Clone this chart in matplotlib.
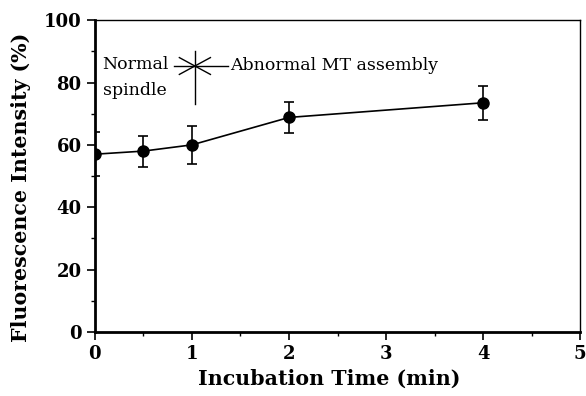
import matplotlib.pyplot as plt
from matplotlib.ticker import MultipleLocator

# data
time_min = [0, 0.5, 1, 2, 4]
intensity = [57.0, 58.0, 60.0, 68.8, 73.5]
err = [7.0, 5.0, 6.2, 5.0, 5.5]

plt.rcParams['font.family'] = ['DejaVu Serif']

fig = plt.figure(figsize=(5.86, 3.96), dpi=100)
ax = fig.add_axes([0.162, 0.162, 0.828, 0.787])

ax.errorbar(time_min, intensity, yerr=err, color='black', marker='o', markersize=8,
            linewidth=1.2, elinewidth=1.2, capsize=3.5, capthick=1.2)

# transition marker between the two phases
ax.plot([0.81, 1.37], [85.3, 85.3], color='black', linewidth=1)
ax.plot([1.03, 1.03], [73, 90], color='black', linewidth=1)
ax.plot([0.87, 1.19], [88.0, 82.6], color='black', linewidth=1)
ax.plot([0.87, 1.19], [82.6, 88.0], color='black', linewidth=1)
ax.text(0.08, 84.3, 'Normal', fontsize=12.5, va='baseline', ha='left')
ax.text(0.08, 76.0, 'spindle', fontsize=12.5, va='baseline', ha='left')
ax.text(1.39, 84.0, 'Abnormal MT assembly', fontsize=12.5, va='baseline', ha='left')

ax.set_xlim(0, 5)
ax.set_ylim(0, 100)
ax.xaxis.set_major_locator(MultipleLocator(1))
ax.xaxis.set_minor_locator(MultipleLocator(0.5))
ax.yaxis.set_major_locator(MultipleLocator(20))
ax.yaxis.set_minor_locator(MultipleLocator(10))
ax.tick_params(which='major', direction='out', length=6, width=1.2, labelsize=13)
ax.tick_params(which='minor', direction='out', length=3, width=1)
for lab in ax.get_xticklabels() + ax.get_yticklabels():
    lab.set_fontweight('bold')

ax.spines['left'].set_linewidth(2)
ax.spines['bottom'].set_linewidth(2)
ax.spines['top'].set_linewidth(1)
ax.spines['right'].set_linewidth(1)

ax.set_xlabel('Incubation Time (min)', fontsize=14.8, fontweight='bold', labelpad=4)
ax.set_ylabel('Fluorescence Intensity (%)', fontsize=14.8, fontweight='bold', labelpad=9)
ax.xaxis.label.set_x(0.482)
ax.yaxis.label.set_y(0.465)

fig.savefig('out.png', dpi=100)
